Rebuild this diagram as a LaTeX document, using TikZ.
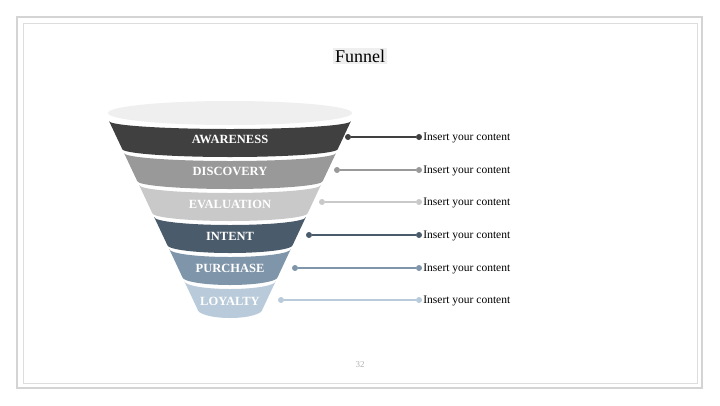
\documentclass[tikz,border=0pt]{standalone}
\usepackage{fontspec}
\setmainfont{Liberation Serif}
\usetikzlibrary{positioning}

\definecolor{awarecol}{HTML}{404040}
\definecolor{discocol}{HTML}{999999}
\definecolor{evalcol}{HTML}{C9C9C9}
\definecolor{intentcol}{HTML}{4A5C6C}
\definecolor{purchcol}{HTML}{7F95AA}
\definecolor{loyalcol}{HTML}{B9CBDA}
\definecolor{rimcol}{HTML}{EFEFEF}
\definecolor{framecol}{HTML}{D4D4D4}

\begin{document}
\begin{tikzpicture}[x=1pt, y=-1pt,
	stagelbl/.style={text=white, inner sep=0pt, font=\fontsize{12.5}{13}\selectfont\bfseries},
	dot/.style={circle, inner sep=0pt, minimum size=6pt},
	lead/.style={line width=1.2pt},
	note/.style={inner sep=0pt, anchor=west, font=\fontsize{11.5}{12}\selectfont}]
	% Sfondo e cornici
	\fill[white] (0,0) rectangle (720,405);
	\useasboundingbox (0,0) rectangle (720,405);
	\draw[framecol, line width=2pt] (17,17) rectangle (702,388);
	\draw[framecol!80, line width=0.8pt] (23,23) rectangle (697,383);
	
	% Titolo
	\node[fill=rimcol, inner sep=2pt, font=\fontsize{18}{20}\selectfont] (titolo) at (360,56) {Funnel};
	\node[text=black!30, font=\fontsize{9}{10}\selectfont] (pagina) at (360,365) {32};
	
	% Bordo superiore dell'imbuto
	\fill[rimcol] (230,113) ellipse[x radius=122, y radius=12];
	
	% Fasce dell'imbuto
	\fill[awarecol] (109,121) arc[start angle=180, end angle=0, x radius=121, y radius=8] -- (337.8,149) arc[start angle=0, end angle=180, x radius=107.8, y radius=8] -- cycle;
	\fill[discocol] (124,153) arc[start angle=180, end angle=0, x radius=106, y radius=8] -- (322.8,181) arc[start angle=0, end angle=180, x radius=92.8, y radius=8] -- cycle;
	\fill[evalcol] (139.1,185) arc[start angle=180, end angle=0, x radius=90.9, y radius=8] -- (307.8,213) arc[start angle=0, end angle=180, x radius=77.8, y radius=8] -- cycle;
	\fill[intentcol] (154.1,217) arc[start angle=180, end angle=0, x radius=75.9, y radius=8] -- (292.7,245) arc[start angle=0, end angle=180, x radius=62.7, y radius=8] -- cycle;
	\fill[purchcol] (169.2,249) arc[start angle=180, end angle=0, x radius=60.8, y radius=8] -- (277.7,277) arc[start angle=0, end angle=180, x radius=47.7, y radius=8] -- cycle;
	\fill[loyalcol] (184.2,281) arc[start angle=180, end angle=0, x radius=45.8, y radius=8] -- (262.6,309) arc[start angle=0, end angle=180, x radius=32.6, y radius=9] -- cycle;
	
	% Etichette delle fasce
	\node[stagelbl] (awareness) at (230,139) {AWARENESS};
	\node[stagelbl] (discovery) at (230,171) {DISCOVERY};
	\node[stagelbl] (evaluation) at (230,204) {EVALUATION};
	\node[stagelbl] (intent) at (230,236) {INTENT};
	\node[stagelbl] (purchase) at (230,268) {PURCHASE};
	\node[stagelbl] (loyalty) at (230,301) {LOYALTY};
	
	% Punti di collegamento
	\node[dot, fill=awarecol] (a1) at (348,137) {};
	\node[dot, fill=awarecol] (a2) at (419,137) {};
	\node[dot, fill=discocol] (b1) at (337,170) {};
	\node[dot, fill=discocol] (b2) at (419,170) {};
	\node[dot, fill=evalcol] (c1) at (322,202) {};
	\node[dot, fill=evalcol] (c2) at (419,202) {};
	\node[dot, fill=intentcol] (d1) at (309,235) {};
	\node[dot, fill=intentcol] (d2) at (419,235) {};
	\node[dot, fill=purchcol] (e1) at (295,268) {};
	\node[dot, fill=purchcol] (e2) at (419,268) {};
	\node[dot, fill=loyalcol] (f1) at (281,300) {};
	\node[dot, fill=loyalcol] (f2) at (419,300) {};
	
	% Linee
	\draw[lead, awarecol] (a1) -- (a2);
	\draw[lead, discocol] (b1) -- (b2);
	\draw[lead, evalcol] (c1) -- (c2);
	\draw[lead, intentcol] (d1) -- (d2);
	\draw[lead, purchcol] (e1) -- (e2);
	\draw[lead, loyalcol] (f1) -- (f2);
	
	% Testi
	\node[note, right=1pt of a2, yshift=-1pt] (testo1) {Insert your content};
	\node[note, right=1pt of b2, yshift=-1pt] (testo2) {Insert your content};
	\node[note, right=1pt of c2, yshift=-1pt] (testo3) {Insert your content};
	\node[note, right=1pt of d2, yshift=-1pt] (testo4) {Insert your content};
	\node[note, right=1pt of e2, yshift=-1pt] (testo5) {Insert your content};
	\node[note, right=1pt of f2, yshift=-1pt] (testo6) {Insert your content};
\end{tikzpicture}
\end{document}
